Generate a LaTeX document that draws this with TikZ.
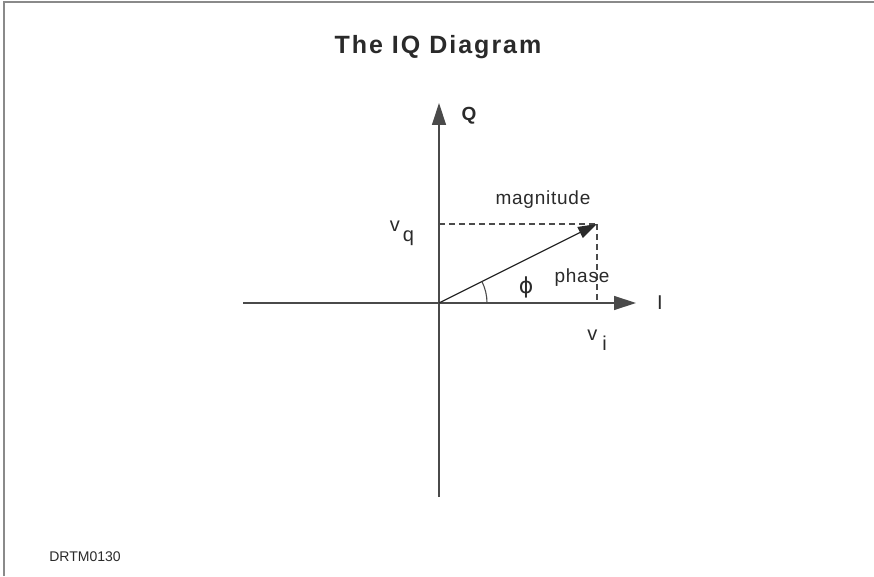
\documentclass[tikz,border=0pt]{standalone}
\usepackage{fontspec}
\setmainfont{Liberation Sans}
\newfontfamily\symfont{DejaVu Sans}
\usepackage{tikz}
\usetikzlibrary{
  arrows.meta,
  positioning,
  calc
}
\definecolor{AxisGray}{HTML}{4A4A4A}
\definecolor{FrameGray}{HTML}{8A8A8A}
\definecolor{InkGray}{HTML}{2A2A2A}
\tikzset{
  axis/.style={
    draw=AxisGray,
    line width=1.3pt,
    -{Triangle[length=22pt,width=14pt]}
  },
  axisline/.style={
    draw=AxisGray,
    line width=1.3pt
  },
  phasor/.style={
    draw=InkGray,
    line width=1.3pt,
    -{Triangle[length=19pt,width=12pt]}
  },
  guide/.style={
    draw=AxisGray,
    line width=1.1pt,
    dash pattern=on 6pt off 4pt
  },
  label/.style={
    inner sep=0pt,
    text=InkGray,
    font=\fontsize{20}{22}\selectfont
  },
  axislabel/.style={
    inner sep=0pt,
    text=InkGray,
    font=\fontsize{19}{21}\selectfont\bfseries
  },
  frame/.style={
    draw=FrameGray,
    line width=1.2pt
  }
}

\begin{document}
\begin{tikzpicture}[
  x=1pt,
  y=1pt
]

  \useasboundingbox
  (0,0) rectangle
  (874,576);

  % frame, left and top
  \draw[
    frame
  ]
  (4,0) --
  (4,574) --
  (874,574);

  \node[
    inner sep=0pt,
    text=InkGray,
    font=\fontsize{25}{28}\selectfont\bfseries\addfontfeatures{LetterSpace=8}
  ] (title) at (438,529) {
    The IQ Diagram
  };

  % axes
  \coordinate (origin) at (439,273);
  \coordinate (qtip) at (439,473);
  \coordinate (qend) at (439,79);
  \coordinate (itip) at (636,273);
  \coordinate (iend) at (243,273);
  \coordinate (vec) at (597,352);
  \coordinate (vqfoot) at (439,352);
  \coordinate (vifoot) at (597,273);

  \draw[
    axis
  ]
  (qend) --
  (qtip);

  \draw[
    axis
  ]
  (iend) --
  (itip);

  \draw[
    guide
  ]
  (vqfoot) --
  (vec);

  \draw[
    guide
  ]
  (vec) --
  (vifoot);

  \draw[
    phasor
  ]
  (origin) --
  (vec);

  \draw[
    axisline,
    line width=1.1pt
  ]
  ($(origin)+(48,0)$) arc[
    start angle=0,
    end angle=26.57,
    radius=48
  ];

  % labels
  \node[
    axislabel
  ] (qlabel) at (469,460) {
    Q
  };

  \node[
    label
  ] (ilabel) at (660,273) {
    I
  };

  \node[
    label,
    font=\fontsize{19}{22}\selectfont\addfontfeatures{LetterSpace=4}
  ] (magnitude) at (543,376) {
    magnitude
  };

  \node[
    label
  ] (vq) at (402,343) {
    v\hspace{3pt}\raisebox{-10pt}{q}
  };

  \node[
    label
  ] (vi) at (597,236) {
    v\hspace{5pt}\raisebox{-10pt}{i}
  };

  \node[
    label,
    font=\fontsize{22}{24}\selectfont\symfont
  ] (phi) at (526,289) {
    ϕ
  };

  \node[
    label,
    font=\fontsize{19}{22}\selectfont\addfontfeatures{LetterSpace=4}
  ] (phase) at (582,298) {
    phase
  };

  \node[
    inner sep=0pt,
    text=InkGray,
    font=\fontsize{14}{16}\selectfont
  ] (code) at (85,19) {
    DRTM0130
  };

\end{tikzpicture}
\end{document}
